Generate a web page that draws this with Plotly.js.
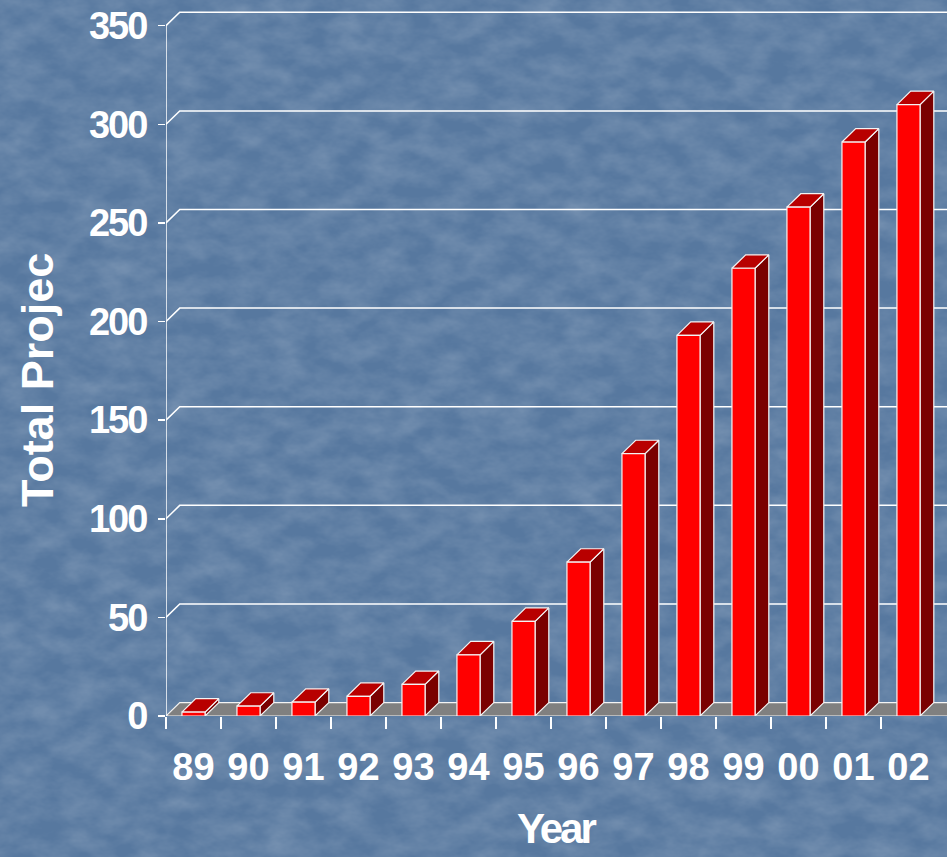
<!DOCTYPE html>
<html>
<head>
<meta charset="utf-8">
<script src="https://cdn.plot.ly/plotly-3.0.1.min.js"></script>
<style>
  html, body { margin: 0; padding: 0; width: 947px; height: 857px; overflow: hidden; }
  body {
    background-color: #57789f;
    background-image: url("data:image/svg+xml;utf8,<svg xmlns='http://www.w3.org/2000/svg' width='947' height='857'><filter id='n'><feTurbulence type='fractalNoise' baseFrequency='0.03 0.05' numOctaves='4' seed='7'/><feColorMatrix type='matrix' values='0 0 0 0 1  0 0 0 0 1  0 0 0 0 1  0.28 0 0 0 -0.08'/></filter><rect width='947' height='857' filter='url(%23n)'/></svg>");
  }
  #chart { width: 947px; height: 857px; }
  .ytick text { letter-spacing: -2px; }
  g.annotation[data-index="1"] text { letter-spacing: -3px; }
</style>
</head>
<body>
<div id="chart"></div>
<script>
// ---- data ----
const years = ["89","90","91","92","93","94","95","96","97","98","99","00","01","02"];
const totals = [2, 5, 7, 10, 16, 31, 48, 78, 133, 193, 227, 258, 291, 310];
const yTicks = [0, 50, 100, 150, 200, 250, 300, 350];
const xTitle = "Year";
const yTitle = "Total Projec";

// ---- 3D geometry (in axis units) ----
const half = 0.21;   // half front-face width (category units)
const dx = 0.25;     // depth offset, x (category units)
const dy = 6.8;      // depth offset, y (value units)
const xMin = -0.5, xMax = 13.7;
const edge = '#f4f4f4';

const idx = years.map((_, i) => i);

// floor
const floor = {
  x: [xMin, xMax + 1, xMax + 1 + dx, xMin + dx, xMin],
  y: [0, 0, dy, dy, 0],
  mode: 'lines', fill: 'toself', fillcolor: '#808080',
  line: { color: edge, width: 1.2 }, hoverinfo: 'skip', showlegend: false
};

// back-wall gridlines with diagonal connectors
const gx = [], gy = [];
yTicks.filter(v => v > 0).forEach(v => {
  gx.push(xMin, xMin + dx, xMax + 2, null);
  gy.push(v, v + dy, v + dy, null);
});
const grid = { x: gx, y: gy, mode: 'lines', line: { color: '#ffffff', width: 1.5 }, hoverinfo: 'skip', showlegend: false };

// front y-axis line (0 .. top tick)
const yLine = { x: [xMin, xMin], y: [0, yTicks[yTicks.length - 1]], mode: 'lines',
  line: { color: '#ffffff', width: 1.5 }, hoverinfo: 'skip', showlegend: false };

// bar faces
const fx = [], fy = [], sx = [], sy = [], tx = [], ty = [];
idx.forEach(i => {
  const v = totals[i];
  fx.push(i - half, i + half, i + half, i - half, i - half, null);
  fy.push(0, 0, v, v, 0, null);
  sx.push(i + half, i + half + dx, i + half + dx, i + half, i + half, null);
  sy.push(0, dy, v + dy, v, 0, null);
  tx.push(i - half, i + half, i + half + dx, i - half + dx, i - half, null);
  ty.push(v, v, v + dy, v + dy, v, null);
});
const face = (x, y, c) => ({ x, y, mode: 'lines', fill: 'toself', fillcolor: c,
  line: { color: edge, width: 1.2 }, hoverinfo: 'skip', showlegend: false });

const data = [floor, grid, yLine,
  face(sx, sy, '#7a0000'),
  face(tx, ty, '#b80000'),
  face(fx, fy, '#ff0000')];

const font = { family: 'Arial, "Liberation Sans", sans-serif', color: '#ffffff', weight: 'bold' };

const layout = {
  width: 947, height: 857,
  margin: { l: 166, r: 0, t: 2, b: 141 },
  paper_bgcolor: 'rgba(0,0,0,0)', plot_bgcolor: 'rgba(0,0,0,0)',
  showlegend: false,
  xaxis: {
    range: [xMin, xMax], showgrid: false, zeroline: false, showline: false,
    tickmode: 'array', tickvals: idx, ticktext: years,
    ticks: 'outside', ticklen: 12, tickcolor: 'rgba(0,0,0,0)',
    ticklabelstandoff: 5,
    tickfont: Object.assign({ size: 38 }, font),
    minor: { tickmode: 'array', tickvals: idx.map(i => i - 0.5), ticks: 'outside', ticklen: 12, tickcolor: '#ffffff', tickwidth: 1.5, showgrid: false }
  },
  yaxis: {
    range: [0, 362], showgrid: false, zeroline: false, showline: false,
    tickmode: 'array', tickvals: yTicks,
    ticks: 'outside', ticklen: 7, tickcolor: '#ffffff', tickwidth: 1.5,
    ticklabelstandoff: 4,
    tickfont: Object.assign({ size: 38 }, font)
  },
  annotations: [
    { text: yTitle, xref: 'paper', yref: 'paper', x: (37 - 166) / 781, y: (716 - 380) / 714,
      xanchor: 'center', yanchor: 'middle', textangle: -90, showarrow: false,
      font: Object.assign({ size: 45 }, font) },
    { text: xTitle, xref: 'paper', yref: 'paper', x: (555 - 166) / 781, y: (716 - 829) / 714,
      xanchor: 'center', yanchor: 'middle', showarrow: false,
      font: Object.assign({ size: 42 }, font) }
  ]
};

Plotly.newPlot('chart', data, layout, { staticPlot: true, displayModeBar: false });
</script>
</body>
</html>
